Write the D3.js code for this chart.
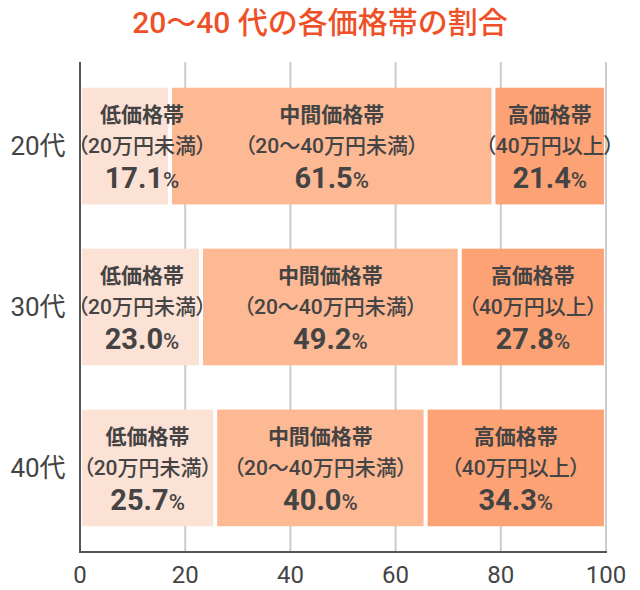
<!DOCTYPE html>
<html>
<head>
<meta charset="utf-8">
<script src="https://cdn.jsdelivr.net/npm/d3@7"></script>
<style>
  body { margin: 0; background: #fff; }
  text { font-family: Roboto, "Noto Sans CJK JP", sans-serif; }
  .range { font-feature-settings: "palt"; }
</style>
</head>
<body>
<div id="chart"></div>
<script>
// data
var ages = ['20代', '30代', '40代'];
var bands = ['低価格帯', '中間価格帯', '高価格帯'];
var bandRanges = ['（20万円未満）', '（20～40万円未満）', '（40万円以上）'];
var low = [17.1, 23.0, 25.7];
var mid = [61.5, 49.2, 40.0];
var high = [21.4, 27.8, 34.3];
var xTicks = [0, 20, 40, 60, 80, 100];

var colors = ['#fce1d5', '#fdb894', '#fca274'];
var width = 640, height = 590;

var svg = d3.select('#chart').append('svg')
    .attr('width', width)
    .attr('height', height);

svg.append('text')
    .attr('x', 320).attr('y', 33)
    .attr('text-anchor', 'middle')
    .style('font-size', '30px')
    .style('font-weight', 500)
    .style('fill', '#ee5128')
    .text('20～40 代の各価格帯の割合');

var x = d3.scaleLinear().domain([0, 100]).range([80, 606]);
var y = d3.scaleBand().domain(ages).range([62, 552]).paddingInner(0.275).paddingOuter(0.16);

// gridlines
svg.append('g').selectAll('line')
    .data(xTicks.slice(1))
    .enter().append('line')
    .attr('x1', function (d) { return x(d); })
    .attr('x2', function (d) { return x(d); })
    .attr('y1', 62).attr('y2', 552)
    .style('stroke', '#cccccc')
    .style('stroke-width', 2);

var series = [low, mid, high];
var segs = [];
ages.forEach(function (a, i) {
    var start = 0;
    series.forEach(function (s, k) {
        segs.push({ age: a, k: k, x0: start, x1: start + s[i], v: s[i] });
        start += s[i];
    });
});

svg.append('g').selectAll('rect')
    .data(segs)
    .enter().append('rect')
    .attr('x', function (d) { return x(d.x0) + 2; })
    .attr('width', function (d) { return x(d.x1) - x(d.x0) - 4; })
    .attr('y', function (d) { return y(d.age); })
    .attr('height', y.bandwidth())
    .style('fill', function (d) { return colors[d.k]; });

// label centre, kept clear of the left axis for narrow segments
function cx(d) { return Math.max((x(d.x0) + x(d.x1)) / 2, x(0) + 62); }

var lab = svg.append('g').selectAll('g')
    .data(segs)
    .enter().append('g');

lab.append('text')
    .attr('x', cx)
    .attr('y', function (d) { return y(d.age) + 34; })
    .attr('text-anchor', 'middle')
    .style('font-size', '21px')
    .style('font-weight', 'bold')
    .style('fill', '#444')
    .text(function (d) { return bands[d.k]; });

lab.append('text')
    .attr('class', 'range')
    .attr('x', cx)
    .attr('y', function (d) { return y(d.age) + 65; })
    .attr('text-anchor', 'middle')
    .style('font-size', '21px')
    .style('font-weight', 500)
    .style('fill', '#444')
    .text(function (d) { return bandRanges[d.k]; });

var val = lab.append('text')
    .attr('x', cx)
    .attr('y', function (d) { return y(d.age) + 100; })
    .attr('text-anchor', 'middle')
    .style('fill', '#444');
val.append('tspan')
    .style('font-size', '29px')
    .style('font-weight', 'bold')
    .text(function (d) { return d.v.toFixed(1); });
val.append('tspan')
    .style('font-size', '22px')
    .style('font-weight', 500)
    .text('%');

// y labels
svg.append('g').selectAll('text')
    .data(ages)
    .enter().append('text')
    .attr('x', 38)
    .attr('y', function (d) { return y(d) + y.bandwidth() / 2 + 9; })
    .attr('text-anchor', 'middle')
    .style('font-size', '26px')
    .style('fill', '#444')
    .text(function (d) { return d; });

// axes lines
svg.append('line')
    .attr('x1', 80).attr('x2', 80).attr('y1', 62).attr('y2', 553)
    .style('stroke', '#555').style('stroke-width', 2);
svg.append('line')
    .attr('x1', 79).attr('x2', 607).attr('y1', 552).attr('y2', 552)
    .style('stroke', '#555').style('stroke-width', 2);

svg.append('g').selectAll('text')
    .data(xTicks)
    .enter().append('text')
    .attr('x', function (d) { return x(d); })
    .attr('y', 583)
    .attr('text-anchor', 'middle')
    .style('font-size', '24px')
    .style('fill', '#444')
    .text(function (d) { return d; });
</script>
</body>
</html>
